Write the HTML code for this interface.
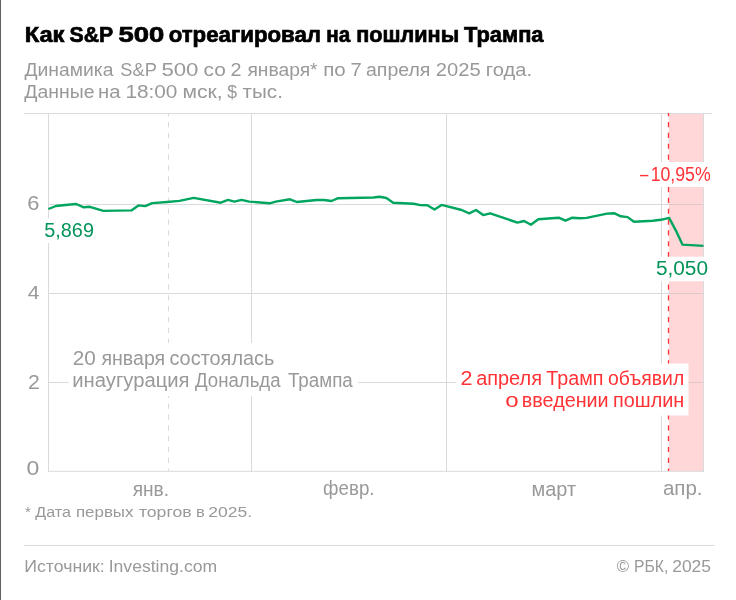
<!DOCTYPE html>
<html><head><meta charset="utf-8"><style>
html,body{margin:0;padding:0;background:#fff;width:736px;height:600px;overflow:hidden}
svg{display:block;will-change:transform;font-family:"Liberation Sans",sans-serif}
</style></head><body>
<svg width="736" height="600" viewBox="0 0 736 600">
<rect x="0" y="0" width="736" height="600" fill="#fff"/>
<rect x="0" y="0" width="1" height="600" fill="#606060"/>
<text x="24.65" y="42.2" font-size="21.8" fill="#000" textLength="39.78" lengthAdjust="spacingAndGlyphs" font-weight="bold" stroke="#000" stroke-width="0.7">Как</text>
<text x="69.54" y="42.2" font-size="21.8" fill="#000" textLength="43.64" lengthAdjust="spacingAndGlyphs" font-weight="bold" stroke="#000" stroke-width="0.7">S&amp;P</text>
<text x="118.61" y="42.2" font-size="21.8" fill="#000" textLength="45.77" lengthAdjust="spacingAndGlyphs" font-weight="bold" stroke="#000" stroke-width="0.7">500</text>
<text x="168.69" y="42.2" font-size="21.8" fill="#000" textLength="152.31" lengthAdjust="spacingAndGlyphs" font-weight="bold" stroke="#000" stroke-width="0.7">отреагировал</text>
<text x="326.31" y="42.2" font-size="21.8" fill="#000" textLength="23.91" lengthAdjust="spacingAndGlyphs" font-weight="bold" stroke="#000" stroke-width="0.7">на</text>
<text x="356.14" y="42.2" font-size="21.8" fill="#000" textLength="103.02" lengthAdjust="spacingAndGlyphs" font-weight="bold" stroke="#000" stroke-width="0.7">пошлины</text>
<text x="463.91" y="42.2" font-size="21.8" fill="#000" textLength="79.61" lengthAdjust="spacingAndGlyphs" font-weight="bold" stroke="#000" stroke-width="0.7">Трампа</text>
<text x="24.46" y="75.9" font-size="18.75" fill="#999999" textLength="88.94" lengthAdjust="spacingAndGlyphs">Динамика</text>
<text x="120.37" y="75.9" font-size="18.75" fill="#999999" textLength="36.49" lengthAdjust="spacingAndGlyphs">S&amp;P</text>
<text x="161.41" y="75.9" font-size="18.75" fill="#999999" textLength="37.06" lengthAdjust="spacingAndGlyphs">500</text>
<text x="203.60" y="75.9" font-size="18.75" fill="#999999" textLength="22.28" lengthAdjust="spacingAndGlyphs">со</text>
<text x="230.41" y="75.9" font-size="18.75" fill="#999999" textLength="10.99" lengthAdjust="spacingAndGlyphs">2</text>
<text x="247.44" y="75.9" font-size="18.75" fill="#999999" textLength="70.16" lengthAdjust="spacingAndGlyphs">января*</text>
<text x="323.18" y="75.9" font-size="18.75" fill="#999999" textLength="22.48" lengthAdjust="spacingAndGlyphs">по</text>
<text x="350.46" y="75.9" font-size="18.75" fill="#999999" textLength="11.26" lengthAdjust="spacingAndGlyphs">7</text>
<text x="365.98" y="75.9" font-size="18.75" fill="#999999" textLength="64.46" lengthAdjust="spacingAndGlyphs">апреля</text>
<text x="435.79" y="75.9" font-size="18.75" fill="#999999" textLength="44.86" lengthAdjust="spacingAndGlyphs">2025</text>
<text x="485.83" y="75.9" font-size="18.75" fill="#999999" textLength="46.17" lengthAdjust="spacingAndGlyphs">года.</text>
<text x="24.36" y="98" font-size="18.75" fill="#999999" textLength="70.31" lengthAdjust="spacingAndGlyphs">Данные</text>
<text x="98.10" y="98" font-size="18.75" fill="#999999" textLength="22.40" lengthAdjust="spacingAndGlyphs">на</text>
<text x="125.42" y="98" font-size="18.75" fill="#999999" textLength="51.99" lengthAdjust="spacingAndGlyphs">18:00</text>
<text x="182.54" y="98" font-size="18.75" fill="#999999" textLength="40.16" lengthAdjust="spacingAndGlyphs">мск,</text>
<text x="227.21" y="98" font-size="18.75" fill="#999999" textLength="9.77" lengthAdjust="spacingAndGlyphs">$</text>
<text x="242.55" y="98" font-size="18.75" fill="#999999" textLength="40.34" lengthAdjust="spacingAndGlyphs">тыс.</text>
<rect x="669" y="114" width="34.5" height="357.3" fill="#ffd7d9"/>
<g stroke="#dadada" stroke-width="1" fill="none" shape-rendering="crispEdges">
<line x1="48" y1="204.5" x2="704" y2="204.5"/>
<line x1="48" y1="293.5" x2="704" y2="293.5"/>
<line x1="48" y1="382.5" x2="704" y2="382.5"/>
<line x1="48.5" y1="113" x2="48.5" y2="471.8"/>
<line x1="251.5" y1="113" x2="251.5" y2="471.8"/>
<line x1="446.5" y1="113" x2="446.5" y2="471.8"/>
<line x1="661.5" y1="113" x2="661.5" y2="471.8"/>
<line x1="703.5" y1="113" x2="703.5" y2="471.8"/>
</g>
<g stroke="#dadada" stroke-width="1" fill="none">
<line x1="24" y1="113.6" x2="712.4" y2="113.6"/>
<line x1="48" y1="471.3" x2="704" y2="471.3"/>
</g>
<g stroke="#dcc8ca" stroke-width="1" shape-rendering="crispEdges">
<line x1="669" y1="204.5" x2="703" y2="204.5"/><line x1="669" y1="293.5" x2="703" y2="293.5"/><line x1="669" y1="382.5" x2="703" y2="382.5"/>
</g>
<line x1="168.5" y1="114" x2="168.5" y2="470.8" stroke="#dadada" stroke-width="1" stroke-dasharray="5.2 5.63" stroke-dashoffset="2.83"/>
<line x1="668.5" y1="113" x2="668.5" y2="471" stroke="#ff3236" stroke-width="1.3" stroke-dasharray="5.2 5.63" stroke-dashoffset="1.83"/>
<text x="27.39" y="209.9" font-size="19.8" fill="#999999" textLength="12.17" lengthAdjust="spacingAndGlyphs">6</text>
<text x="27.82" y="299" font-size="19.2" fill="#999999" textLength="11.70" lengthAdjust="spacingAndGlyphs">4</text>
<text x="28.13" y="388.9" font-size="19.8" fill="#999999" textLength="11.84" lengthAdjust="spacingAndGlyphs">2</text>
<text x="26.60" y="475.1" font-size="19.8" fill="#999999" textLength="12.80" lengthAdjust="spacingAndGlyphs">0</text>
<text x="132.64" y="495.5" font-size="19.3" fill="#999999" textLength="36.41" lengthAdjust="spacingAndGlyphs">янв.</text>
<text x="323.11" y="495.4" font-size="19.3" fill="#999999" textLength="51.40" lengthAdjust="spacingAndGlyphs">февр.</text>
<text x="531.43" y="495.5" font-size="19.3" fill="#999999" textLength="44.61" lengthAdjust="spacingAndGlyphs">март</text>
<text x="662.93" y="495.3" font-size="19.3" fill="#999999" textLength="39.65" lengthAdjust="spacingAndGlyphs">апр.</text>
<polyline fill="none" stroke="#00a55f" stroke-width="2.4" stroke-linejoin="round" points="48.4,209 55.9,206 65.4,205 76.25,204 83.7,207.3 89.8,206.8 103.4,210.9 131.3,210.4 138.5,205.4 145.2,206.1 152.2,203.1 167.2,202 179.4,200.9 193.7,197.9 220.8,202.7 228,199.9 234.4,201.6 241.5,199.9 249.3,201.6 269.6,203.3 275.8,201.6 290,199.3 296.8,202 316.5,200 324,200 331.5,201 338.2,198.2 373.5,197.5 379.6,196.8 386.4,198 393.2,202.7 413.6,203.8 420.4,205.1 427.4,205.2 434.5,209.5 441.6,204.9 461.7,210 469.2,213.3 476,210 483.2,215.1 490.2,213.3 517.4,222.6 524.1,221 530.9,224.7 538.3,219.3 558.7,217.7 565.5,220.7 572.3,217.7 579.8,218.3 586.6,217.9 607,213.6 614,213.2 620.8,216.3 627.6,217.1 634,221.7 652.8,220.7 660.9,219.8 669.1,217.9 675.9,230.6 682.4,244.6 703.5,245.9"/>
<rect x="40" y="218.5" width="58" height="24.5" fill="#fff"/>
<text x="44.26" y="237.4" font-size="19.5" fill="#03955a" textLength="49.69" lengthAdjust="spacingAndGlyphs">5,869</text>
<rect x="636" y="162" width="76" height="25" fill="#fff"/>
<text x="640.00" y="180.9" font-size="19.7" fill="#ff3236" textLength="8.31" lengthAdjust="spacingAndGlyphs">–</text>
<text x="650.65" y="180.9" font-size="19.7" fill="#ff3236" textLength="60.08" lengthAdjust="spacingAndGlyphs">10,95%</text>
<rect x="652" y="256.7" width="58" height="24.5" fill="#fff"/>
<text x="655.97" y="274.8" font-size="19.7" fill="#03955a" textLength="52.05" lengthAdjust="spacingAndGlyphs">5,050</text>
<rect x="68.5" y="343" width="289.5" height="53" fill="#fff"/>
<text x="72.66" y="364.8" font-size="19.6" fill="#999999" textLength="23.05" lengthAdjust="spacingAndGlyphs">20</text>
<text x="101.44" y="364.8" font-size="19.6" fill="#999999" textLength="63.71" lengthAdjust="spacingAndGlyphs">января</text>
<text x="169.45" y="364.8" font-size="19.6" fill="#999999" textLength="104.96" lengthAdjust="spacingAndGlyphs">состоялась</text>
<text x="72.30" y="386.8" font-size="19.6" fill="#999999" textLength="117.30" lengthAdjust="spacingAndGlyphs">инаугурация</text>
<text x="194.96" y="386.8" font-size="19.6" fill="#999999" textLength="85.64" lengthAdjust="spacingAndGlyphs">Дональда</text>
<text x="287.88" y="386.8" font-size="19.6" fill="#999999" textLength="64.92" lengthAdjust="spacingAndGlyphs">Трампа</text>
<rect x="456.5" y="363.5" width="232" height="52" fill="#fff"/>
<text x="460.42" y="384.8" font-size="19.6" fill="#ff3236" textLength="11.96" lengthAdjust="spacingAndGlyphs">2</text>
<text x="476.16" y="384.8" font-size="19.6" fill="#ff3236" textLength="65.81" lengthAdjust="spacingAndGlyphs">апреля</text>
<text x="546.36" y="384.8" font-size="19.6" fill="#ff3236" textLength="57.18" lengthAdjust="spacingAndGlyphs">Трамп</text>
<text x="608.09" y="384.8" font-size="19.6" fill="#ff3236" textLength="76.14" lengthAdjust="spacingAndGlyphs">объявил</text>
<text x="505.39" y="406.6" font-size="19.6" fill="#ff3236" textLength="13.43" lengthAdjust="spacingAndGlyphs">о</text>
<text x="521.84" y="406.6" font-size="19.6" fill="#ff3236" textLength="86.82" lengthAdjust="spacingAndGlyphs">введении</text>
<text x="613.03" y="406.6" font-size="19.6" fill="#ff3236" textLength="71.25" lengthAdjust="spacingAndGlyphs">пошлин</text>
<text x="24.96" y="517.2" font-size="15.5" fill="#999999" textLength="5.88" lengthAdjust="spacingAndGlyphs">*</text>
<text x="35.38" y="517.2" font-size="15.5" fill="#999999" textLength="35.52" lengthAdjust="spacingAndGlyphs">Дата</text>
<text x="75.93" y="517.2" font-size="15.5" fill="#999999" textLength="57.55" lengthAdjust="spacingAndGlyphs">первых</text>
<text x="138.90" y="517.2" font-size="15.5" fill="#999999" textLength="52.86" lengthAdjust="spacingAndGlyphs">торгов</text>
<text x="195.96" y="517.2" font-size="15.5" fill="#999999" textLength="8.76" lengthAdjust="spacingAndGlyphs">в</text>
<text x="208.32" y="517.2" font-size="15.5" fill="#999999" textLength="43.78" lengthAdjust="spacingAndGlyphs">2025.</text>
<line x1="24" y1="545.5" x2="714.4" y2="545.5" stroke="#dadada" stroke-width="1"/>
<text x="24.26" y="571.8" font-size="16.6" fill="#999999" textLength="80.55" lengthAdjust="spacingAndGlyphs">Источник:</text>
<text x="108.68" y="571.8" font-size="16.6" fill="#999999" textLength="108.48" lengthAdjust="spacingAndGlyphs">Investing.com</text>
<text x="616.65" y="571.6" font-size="16.6" fill="#999999" textLength="12.31" lengthAdjust="spacingAndGlyphs">©</text>
<text x="633.91" y="571.6" font-size="16.6" fill="#999999" textLength="34.41" lengthAdjust="spacingAndGlyphs">РБК,</text>
<text x="672.22" y="571.6" font-size="16.6" fill="#999999" textLength="38.81" lengthAdjust="spacingAndGlyphs">2025</text>
</svg>
</body></html>
